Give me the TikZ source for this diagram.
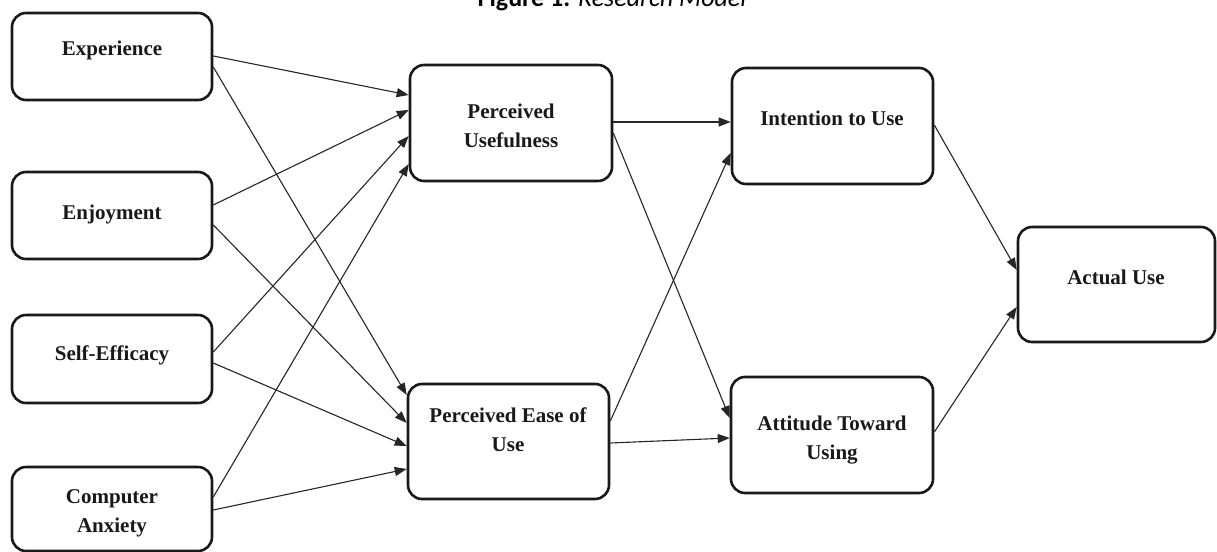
\documentclass[tikz,border=0pt]{standalone}
\usepackage{fontspec}
\setmainfont{Liberation Serif}
\newfontfamily\capfont{Carlito}
\usetikzlibrary{arrows.meta}
\begin{document}
\begin{tikzpicture}[x=1pt,y=-1pt,
  box/.style={draw=black!90, line width=2.6pt, rounded corners=14pt, inner sep=0pt, fill=white},
  lbl/.style={font=\bfseries\fontsize{21}{28.5}\selectfont, align=center, inner sep=0pt, anchor=base, text=black!90},
  conn/.style={draw=black!85, line width=1.1pt, -{Triangle[length=12pt,width=9pt]}}]
\useasboundingbox (0,0) rectangle (1217,551);
\clip (0,0) rectangle (1217,551);
\fill[white] (0,0) rectangle (1217,551);
% title (cut off at top, as in the reference)
\node[font=\capfont\fontsize{26}{30}\selectfont, anchor=base, inner sep=0pt] (title) at (612,7) {\textbf{Figure 1.} \textit{Research Model}};
% boxes
\node[box, minimum width=200pt, minimum height=87pt] (exp) at (112,56.5) {};
\node[box, minimum width=200pt, minimum height=87pt] (enj) at (112,215.5) {};
\node[box, minimum width=200pt, minimum height=88pt] (se) at (112,359) {};
\node[box, minimum width=200pt, minimum height=84pt] (ca) at (112,509) {};
\node[box, minimum width=202pt, minimum height=116pt] (pu) at (511,123) {};
\node[box, minimum width=201pt, minimum height=115pt] (peou) at (508.5,441.5) {};
\node[box, minimum width=201pt, minimum height=116pt] (itu) at (832.5,126) {};
\node[box, minimum width=202pt, minimum height=116pt] (atu) at (832,435) {};
\node[box, minimum width=197pt, minimum height=115pt] (au) at (1116.5,284.5) {};
% labels (base anchor = baseline of last line)
\node[lbl] (expT) at (112,56) {Experience};
\node[lbl] (enjT) at (112,219) {Enjoyment};
\node[lbl] (seT) at (112,360) {Self-Efficacy};
\node[lbl] (caT) at (112,532) {Computer\\Anxiety};
\node[lbl] (puT) at (511,147) {Perceived\\Usefulness};
\node[lbl] (peouT) at (508,451) {Perceived Ease of\\Use};
\node[lbl] (ituT) at (832,125) {Intention to Use};
\node[lbl] (atuT) at (832,459) {Attitude Toward\\Using};
\node[lbl] (auT) at (1116,284) {Actual Use};
% connectors
\draw[conn] (exp.east |- 0,56) -- (pu.west |- 0,95);
\draw[conn] (exp.east |- 0,67) -- (peou.west |- 0,395);
\draw[conn] (enj.east |- 0,205) -- (pu.west |- 0,110);
\draw[conn] (enj.east |- 0,225) -- (peou.west |- 0,423);
\draw[conn] (se.east |- 0,352) -- (pu.west |- 0,136);
\draw[conn] (se.east |- 0,363) -- (peou.west |- 0,446);
\draw[conn] (ca.east |- 0,497) -- (pu.west |- 0,164);
\draw[conn] (ca.east |- 0,510) -- (peou.west |- 0,469);
\draw[conn] (pu.east |- 0,122) -- (itu.west |- 0,122);
\draw[conn] (pu.east |- 0,133) -- (atu.west |- 0,418);
\draw[conn] (peou.east |- 0,421) -- (itu.west |- 0,153);
\draw[conn] (peou.east |- 0,443) -- (atu.west |- 0,438);
\draw[conn] (itu.east |- 0,125) -- (au.west |- 0,270);
\draw[conn] (atu.east |- 0,432) -- (au.west |- 0,307);
\end{tikzpicture}
\end{document}
